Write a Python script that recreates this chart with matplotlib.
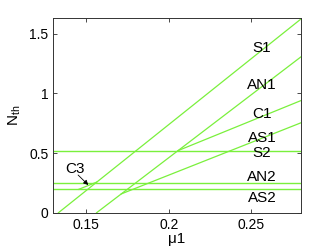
import numpy as np
import matplotlib
matplotlib.use("Agg")
import matplotlib.pyplot as plt

plt.rcParams['font.family'] = ['Liberation Sans', 'DejaVu Sans']

# threshold curves (mu1, N_th)
s1_mu = [0.1332, 0.28]
s1_n = [0.0, 1.622]
an1_mu = [0.1563, 0.28]
an1_n = [0.0, 1.305]
c1_mu = [0.2056, 0.28]
c1_n = [0.52, 0.939]
as1_mu = [0.1713, 0.28]
as1_n = [0.158, 0.753]
c3_mu = [0.1455, 0.1563]
c3_n = [0.196, 0.256]

# flat thresholds
s2_n = 0.52
an2_n = 0.253
as2_n = 0.196

labels = ['S1', 'AN1', 'C1', 'AS1', 'S2', 'AN2', 'AS2']
label_y = [1.383, 1.069, 0.826, 0.629, 0.497, 0.299, 0.127]
label_x = 0.2565

green = '#7af03c'
lw = 0.9

fig = plt.figure(figsize=(3.32, 2.5), dpi=100)
ax = fig.add_axes([0.16, 0.149, 0.7466, 0.779])

for mu, n in [(s1_mu, s1_n), (an1_mu, an1_n), (c1_mu, c1_n), (as1_mu, as1_n), (c3_mu, c3_n)]:
    ax.plot(mu, n, color=green, lw=lw)
for h in [s2_n, an2_n, as2_n]:
    ax.axhline(h, color=green, lw=1.0)

for lab, y in zip(labels, label_y):
    ax.text(label_x, y, lab, fontsize=11, ha='center', va='center')

ax.text(0.1433, 0.363, 'C3', fontsize=11, ha='center', va='center')
ax.annotate('', xy=(0.1513, 0.232), xytext=(0.1451, 0.316),
            arrowprops=dict(arrowstyle='-|>', color='black', lw=0.6,
                            mutation_scale=7, shrinkA=0, shrinkB=0))

ax.set_xlim(0.13, 0.28)
ax.set_ylim(0, 1.63)
ax.set_xticks([0.15, 0.2, 0.25])
ax.set_xticklabels(['0.15', '0.2', '0.25'])
ax.set_yticks([0, 0.5, 1, 1.5])
ax.set_yticklabels(['0', '0.5', '1', '1.5'])
ax.tick_params(direction='in', top=True, right=True, labelsize=10, length=3, width=0.5)
for sp in ax.spines.values():
    sp.set_linewidth(0.7)
    sp.set_color('#333333')

ax.set_xlabel('\u03bc1', fontsize=11, labelpad=0)
ax.set_ylabel('N$_{\\mathregular{th}}$', fontsize=11, labelpad=4)

fig.savefig('out.png', dpi=100)
